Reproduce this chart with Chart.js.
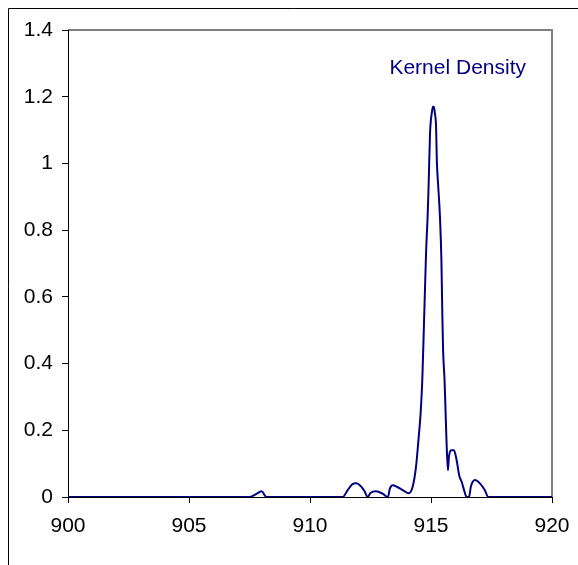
<!DOCTYPE html>
<html>
<head>
<meta charset="utf-8">
<script src="https://cdn.jsdelivr.net/npm/chart.js@4/dist/chart.umd.min.js"></script>
<style>
  body { margin: 0; background: #fff; }
  #wrap { width: 578px; height: 565px; }
</style>
</head>
<body>
<div id="wrap"><canvas id="kdChart" width="578" height="565"></canvas></div>
<script>
// kernel density estimate
const xValues = [
  900, 907.5, 907.75, 908.0, 908.2, 911.35, 911.55, 911.75, 911.9, 912.05,
  912.25, 912.38, 912.5, 912.73, 913.0, 913.22, 913.3, 913.42, 913.6, 913.85,
  914.08, 914.25, 914.38, 914.48, 914.57, 914.64, 914.71, 914.75, 914.8, 914.86,
  914.9, 914.96, 915.04, 915.08, 915.12, 915.16, 915.21, 915.24, 915.3, 915.37,
  915.43, 915.47, 915.5, 915.56, 915.6, 915.64, 915.7, 915.74, 915.85, 915.95,
  916.06, 916.17, 916.27, 916.37, 916.47, 916.57, 916.65, 916.82, 917.02, 917.22,
  917.37, 920
];
const densityValues = [
  0, 0, 0.008, 0.017, 0, 0, 0.02, 0.038, 0.041, 0.036,
  0.018, 0, 0.012, 0.017, 0.01, 0, 0.025, 0.035, 0.03, 0.02,
  0.011, 0.033, 0.09, 0.17, 0.25, 0.35, 0.52, 0.62, 0.74, 0.84,
  0.93, 1.09, 1.155, 1.17, 1.17, 1.15, 1.11, 1.01, 0.93, 0.84,
  0.71, 0.54, 0.44, 0.35, 0.26, 0.17, 0.08, 0.12, 0.14, 0.14,
  0.11, 0.063, 0.045, 0.02, 0, 0, 0.032, 0.051, 0.041, 0.021,
  0, 0
];
const yTickLabels = ["0", "0.2", "0.4", "0.6", "0.8", "1", "1.2", "1.4"];
const xTickLabels = ["900", "905", "910", "915", "920"];
const seriesName = "Kernel Density";

const points = xValues.map((x, i) => ({ x: x, y: densityValues[i] }));

// outer frame (only top and left are inside the picture) + grey plot box edges
const framePlugin = {
  id: "frame",
  beforeDraw(chart) {
    const c = chart.ctx;
    c.save();
    c.fillStyle = "#fff";
    c.fillRect(0, 0, chart.width, chart.height);
    c.strokeStyle = "#000";
    c.lineWidth = 1;
    c.beginPath();
    c.moveTo(8.5, chart.height);
    c.lineTo(8.5, 8.5);
    c.lineTo(chart.width, 8.5);
    c.stroke();
    const a = chart.chartArea;
    c.strokeStyle = "#808080";
    c.lineWidth = 2;
    c.beginPath();
    c.moveTo(a.left, a.top);
    c.lineTo(a.right, a.top);
    c.lineTo(a.right, a.bottom);
    c.stroke();
    c.restore();
  },
  afterDraw(chart) {
    const c = chart.ctx;
    const a = chart.chartArea;
    c.save();
    c.fillStyle = "#000080";
    c.font = "21px 'Liberation Sans', Arial, sans-serif";
    c.textAlign = "right";
    c.textBaseline = "middle";
    c.fillText(seriesName, a.right - 26, 68);
    c.restore();
  }
};

new Chart(document.getElementById("kdChart"), {
  type: "line",
  data: {
    datasets: [
      {
        label: seriesName,
        data: points,
        borderColor: "#000080",
        borderWidth: 2,
        pointRadius: 0,
        fill: false,
        cubicInterpolationMode: "monotone",
      },
    ],
  },
  options: {
    responsive: false,
    animation: false,
    layout: { padding: { left: 8, top: 30, right: 26, bottom: 8 } },
    plugins: { legend: { display: false }, tooltip: { enabled: false } },
    scales: {
      x: {
        type: "linear",
        min: 900,
        max: 920,
        afterFit(scale) {
          scale.height = 60;
          scale.paddingLeft = 0;
          scale.paddingRight = 0;
        },
        grid: { drawOnChartArea: false, tickLength: 6, color: "#000", lineWidth: 1 },
        border: { color: "#000", width: 1 },
        ticks: {
          stepSize: 5,
          padding: 11,
          color: "#000",
          font: { family: "'Liberation Sans', Arial, sans-serif", size: 21 },
          callback: (v, i) => xTickLabels[i],
        },
      },
      y: {
        min: 0,
        max: 1.4,
        afterFit(scale) {
          scale.width = 60;
          scale.paddingTop = 0;
          scale.paddingBottom = 0;
        },
        grid: { drawOnChartArea: false, tickLength: 6, color: "#000", lineWidth: 1 },
        border: { color: "#000", width: 1 },
        ticks: {
          stepSize: 0.2,
          padding: 9,
          color: "#000",
          font: { family: "'Liberation Sans', Arial, sans-serif", size: 21 },
          callback: (v, i) => yTickLabels[i],
        },
      },
    },
  },
  plugins: [framePlugin],
});
</script>
</body>
</html>
